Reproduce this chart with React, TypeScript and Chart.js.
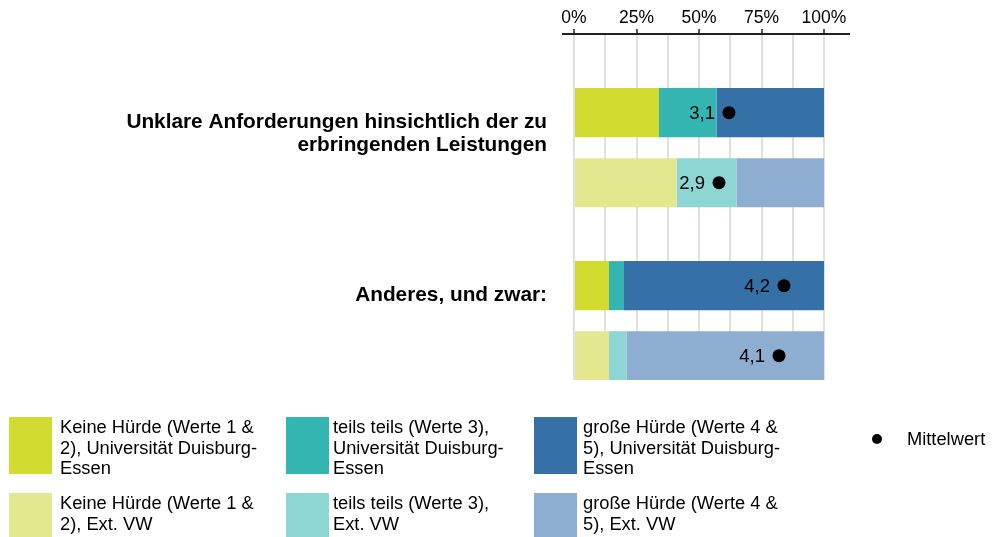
import React, { useEffect, useRef } from "react";
import { Chart, registerables } from "chart.js";

Chart.register(...registerables);

// ---- data ----
const groupLabels: string[][] = [
  ["Unklare Anforderungen hinsichtlich der zu", "erbringenden Leistungen"],
  ["Anderes, und zwar:"],
];

// shares in percent per group (Universität Duisburg-Essen)
const keineUDE = [34, 14];
const teilsUDE = [23, 6];
const grosseUDE = [43, 80];

// shares in percent per group (Ext. VW)
const keineVW = [41, 14];
const teilsVW = [24, 7];
const grosseVW = [35, 79];

// mean ratings on the 1–5 scale
const meanUDE = [3.1, 4.2];
const meanVW = [2.9, 4.1];
const RATING_MAX = 5;

const gridValues = [0, 12.5, 25, 37.5, 50, 62.5, 75, 87.5, 100];
const tickValues = [0, 25, 50, 75, 100];
const tickLabels = ["0%", "25%", "50%", "75%", "100%"];

const COLORS = {
  keineUDE: "#d1db30",
  teilsUDE: "#33b5b2",
  grosseUDE: "#3570a7",
  keineVW: "#e3e88e",
  teilsVW: "#8ed6d3",
  grosseVW: "#8eaed1",
};

const legendItems = [
  { color: COLORS.keineUDE, lines: ["Keine Hürde (Werte 1 &", "2), Universität Duisburg-", "Essen"] },
  { color: COLORS.teilsUDE, lines: ["teils teils (Werte 3),", "Universität Duisburg-", "Essen"] },
  { color: COLORS.grosseUDE, lines: ["große Hürde (Werte 4 &", "5), Universität Duisburg-", "Essen"] },
  { color: COLORS.keineVW, lines: ["Keine Hürde (Werte 1 &", "2), Ext. VW"] },
  { color: COLORS.teilsVW, lines: ["teils teils (Werte 3),", "Ext. VW"] },
  { color: COLORS.grosseVW, lines: ["große Hürde (Werte 4 &", "5), Ext. VW"] },
];

const FONT = '"Liberation Sans", Arial, sans-serif';
const CAT_PCT = 0.81;
const BAR_PCT = 0.7;

const fmt = (v: number) => v.toFixed(1).replace(".", ",");

// group labels to the left of the plot, first line set above the group centre
const groupLabelPlugin = {
  id: "groupLabels",
  afterDraw(chart: any) {
    const ctx = chart.ctx;
    const y = chart.scales.y;
    ctx.save();
    ctx.font = `bold 20.8px ${FONT}`;
    ctx.fillStyle = "#000";
    ctx.textAlign = "right";
    ctx.textBaseline = "middle";
    groupLabels.forEach((lines, i) => {
      const top = y.getPixelForValue(i) - 25.5;
      lines.forEach((line, k) => ctx.fillText(line, 547, top + k * 23.3));
    });
    ctx.restore();
  },
};

// mean value text to the left of each mean marker
const meanLabelPlugin = {
  id: "meanLabels",
  afterDraw(chart: any) {
    const ctx = chart.ctx;
    const meta = chart.getDatasetMeta(0);
    const ds = chart.data.datasets[0];
    ctx.save();
    ctx.font = `18.5px ${FONT}`;
    ctx.fillStyle = "#000";
    ctx.textAlign = "right";
    ctx.textBaseline = "middle";
    meta.data.forEach((pt: any, i: number) => {
      const m = ds.data[i].mean;
      ctx.fillText(fmt(m), pt.x - 14, pt.y + 1.5);
    });
    ctx.restore();
  },
};

export default function App() {
  const ref = useRef<HTMLCanvasElement>(null);

  useEffect(() => {
    const bar = (label: string, values: number[], stack: string, color: string) => ({
      type: "bar" as const,
      label,
      data: values.map((v, i) => ({ x: v, y: i })),
      stack,
      backgroundColor: color,
      borderWidth: 0,
      categoryPercentage: CAT_PCT,
      barPercentage: BAR_PCT,
    });

    const meanPoints = [
      ...meanUDE.map((m, i) => ({ x: (m / RATING_MAX) * 100, y: i - CAT_PCT / 4, mean: m })),
      ...meanVW.map((m, i) => ({ x: (m / RATING_MAX) * 100, y: i + CAT_PCT / 4, mean: m })),
    ];

    const chart = new Chart(ref.current!, {
      type: "bar",
      data: {
        datasets: [
          {
            type: "scatter",
            label: "Mittelwert",
            data: meanPoints,
            indexAxis: "x",
            backgroundColor: "#000",
            borderWidth: 0,
            pointRadius: 6.5,
            order: -1,
          } as any,
          bar("Keine Hürde (Werte 1 & 2), Universität Duisburg-Essen", keineUDE, "UDE", COLORS.keineUDE),
          bar("teils teils (Werte 3), Universität Duisburg-Essen", teilsUDE, "UDE", COLORS.teilsUDE),
          bar("große Hürde (Werte 4 & 5), Universität Duisburg-Essen", grosseUDE, "UDE", COLORS.grosseUDE),
          bar("Keine Hürde (Werte 1 & 2), Ext. VW", keineVW, "VW", COLORS.keineVW),
          bar("teils teils (Werte 3), Ext. VW", teilsVW, "VW", COLORS.teilsVW),
          bar("große Hürde (Werte 4 & 5), Ext. VW", grosseVW, "VW", COLORS.grosseVW),
        ],
      },
      options: {
        responsive: false,
        animation: false,
        indexAxis: "y",
        layout: { padding: { left: 563, right: 143, top: 8, bottom: 157 } },
        plugins: { legend: { display: false }, tooltip: { enabled: false } },
        scales: {
          x: {
            type: "linear",
            position: "top",
            stacked: true,
            min: -4.4,
            max: 110,
            z: 1,
            afterBuildTicks: (s: any) => {
              s.ticks = gridValues.map((v) => ({ value: v }));
            },
            ticks: {
              autoSkip: false,
              maxRotation: 0,
              padding: 0,
              color: "#000",
              font: { family: FONT, size: 17.5 },
              callback: (v: any) => {
                const i = tickValues.indexOf(Number(v));
                return i >= 0 ? tickLabels[i] : "";
              },
            },
            grid: {
              color: "rgba(90,90,90,0.19)",
              lineWidth: 2,
              tickLength: 5,
              tickWidth: 1.5,
              tickColor: (c: any) =>
                c.tick && tickValues.includes(c.tick.value) ? "#222" : "rgba(0,0,0,0)",
            },
            border: { display: true, color: "#222", width: 2 },
          },
          y: {
            type: "linear",
            reverse: true,
            min: -0.657,
            max: 1.343,
            offset: false,
            display: false,
            // one tick per group so bar widths follow the group spacing
            afterBuildTicks: (s: any) => {
              s.ticks = groupLabels.map((_, i) => ({ value: i }));
            },
          },
        },
      } as any,
      plugins: [groupLabelPlugin, meanLabelPlugin],
    });
    return () => chart.destroy();
  }, []);

  const boxLeft = [9, 286, 534];
  const textLeft = [60, 333, 583];
  const rowTop = [417, 493];

  return (
    <div
      style={{
        position: "fixed",
        left: 0,
        top: 0,
        width: 992,
        height: 537,
        overflow: "hidden",
        background: "#fff",
      }}
    >
      <canvas ref={ref} width={992} height={537} style={{ position: "absolute", left: 0, top: 0 }} />
      {legendItems.map((it, k) => {
        const col = k % 3;
        const row = Math.floor(k / 3);
        return (
          <React.Fragment key={k}>
            <div
              style={{
                position: "absolute",
                left: boxLeft[col],
                top: rowTop[row],
                width: 43,
                height: 57,
                background: it.color,
              }}
            />
            <div
              style={{
                position: "absolute",
                left: textLeft[col],
                top: rowTop[row],
                font: `18.3px ${FONT}`,
                lineHeight: "20.5px",
                whiteSpace: "nowrap",
                color: "#000",
              }}
            >
              {it.lines.map((l, i) => (
                <div key={i}>{l}</div>
              ))}
            </div>
          </React.Fragment>
        );
      })}
      <div
        style={{
          position: "absolute",
          left: 872,
          top: 434,
          width: 10,
          height: 10,
          borderRadius: "50%",
          background: "#000",
        }}
      />
      <div
        style={{
          position: "absolute",
          left: 907,
          top: 428.75,
          font: `18.3px ${FONT}`,
          lineHeight: "20.5px",
          whiteSpace: "nowrap",
          color: "#000",
        }}
      >
        Mittelwert
      </div>
    </div>
  );
}
